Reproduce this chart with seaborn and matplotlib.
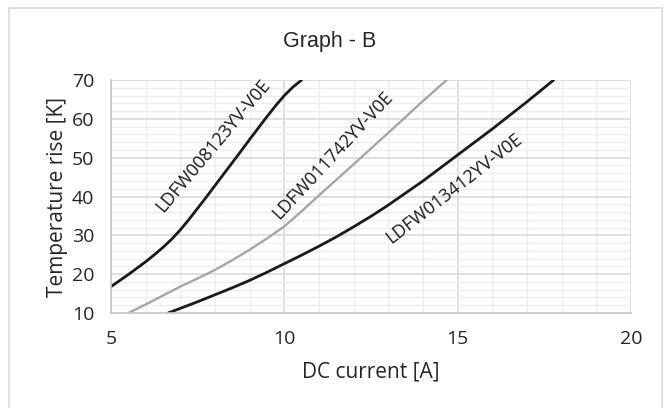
import matplotlib
matplotlib.use("Agg")
import matplotlib.pyplot as plt
import numpy as np
import pandas as pd
import seaborn as sns
from matplotlib.patches import Rectangle
from matplotlib.ticker import MultipleLocator

sns.set_theme(style="white")
plt.rcParams["font.family"] = ["Open Sans", "DejaVu Sans"]

# data
names = ["LDFW008123YV-V0E", "LDFW011742YV-V0E", "LDFW013412YV-V0E"]
current_a = [5.0, 5.5, 6.0, 6.25, 6.5, 6.75, 7.0, 7.25, 7.72, 8.2, 8.65, 9.05, 9.45, 9.75, 10.0, 10.25, 10.5]
temp_a = [16.8, 19.9, 23.2, 25.0, 26.9, 29.0, 31.4, 34.1, 39.5, 45.2, 50.5, 55.3, 60.0, 63.4, 66.0, 68.2, 70.0]
current_b = [5.5, 6.0, 6.5, 7.0, 7.5, 8.0, 8.5, 9.0, 9.5, 10.0, 10.5, 11.0, 11.5, 12.0, 13.0, 14.0, 14.68]
temp_b = [10.0, 12.2, 14.5, 16.8, 18.9, 21.1, 23.6, 26.3, 29.2, 32.3, 36.2, 40.3, 44.3, 48.3, 56.4, 64.6, 70.0]
current_c = [6.65, 7.0, 7.5, 8.0, 8.5, 9.0, 9.5, 10.0, 10.5, 11.0, 11.5, 12.0, 12.5, 13.0, 14.0, 15.0, 16.0, 17.0, 17.77]
temp_c = [10.0, 11.2, 12.9, 14.7, 16.5, 18.4, 20.5, 22.7, 24.9, 27.2, 29.6, 32.2, 34.9, 37.8, 44.0, 50.7, 57.4, 64.4, 70.0]
label_pos = [(7.94, 53.0, 50), (11.4, 50.7, 47), (14.91, 42.0, 38)]
colors = ["#1a1a1a", "#a6a6a6", "#1a1a1a"]
widths = [2.0, 1.7, 2.0]

frames = []
for name, xs, ys in zip(names, [current_a, current_b, current_c], [temp_a, temp_b, temp_c]):
    frames.append(pd.DataFrame({"current": xs, "temp": ys, "part": name}))
df = pd.concat(frames, ignore_index=True)

fig = plt.figure(figsize=(6.67, 4.08), dpi=100)
fig.patches.append(Rectangle((9 / 667, -0.05), 653 / 667, 1.04 - 4 / 408, transform=fig.transFigure,
                             fill=False, edgecolor="#d9d9d9", linewidth=1.2))
ax = fig.add_axes([111 / 667, 1 - 313 / 408, 520 / 667, 233 / 408])

sns.lineplot(data=df, x="current", y="temp", hue="part", palette=colors, size="part",
             sizes=dict(zip(names, widths)), legend=False, ax=ax, sort=False, estimator=None)

ax.set_xlim(5, 20)
ax.set_ylim(10, 70)
ax.xaxis.set_major_locator(MultipleLocator(5))
ax.xaxis.set_minor_locator(MultipleLocator(1))
ax.yaxis.set_major_locator(MultipleLocator(10))
ax.yaxis.set_minor_locator(MultipleLocator(2))
ax.grid(which="major", color="#d9d9d9", linewidth=1.2)
ax.grid(which="minor", color="#eeeeee", linewidth=1.0)
ax.set_axisbelow(True)
for side in ["top", "right"]:
    ax.spines[side].set_visible(False)
for side in ["left", "bottom"]:
    ax.spines[side].set_color("#c8c8c8")
    ax.spines[side].set_linewidth(1.2)
ax.tick_params(which="both", length=0, labelsize=14, colors="#262626")
ax.tick_params(axis="x", pad=12)
ax.tick_params(axis="y", pad=12)

ax.set_xlabel("DC current [A]", fontsize=15, color="#262626", labelpad=10)
ax.set_ylabel("Temperature rise [K]", fontsize=15, color="#262626", labelpad=3)
fig.text(0.494, 1 - 41 / 408, "Graph - B", fontsize=15.5, ha="center", va="center",
         color="#262626", family=["Liberation Sans", "DejaVu Sans"])

for name, (x, y, rot) in zip(names, label_pos):
    ax.text(x, y, name, rotation=rot, rotation_mode="anchor", ha="center", va="center",
            fontsize=13, color="#1a1a1a")

fig.savefig("out.png", dpi=100)
plt.close(fig)
